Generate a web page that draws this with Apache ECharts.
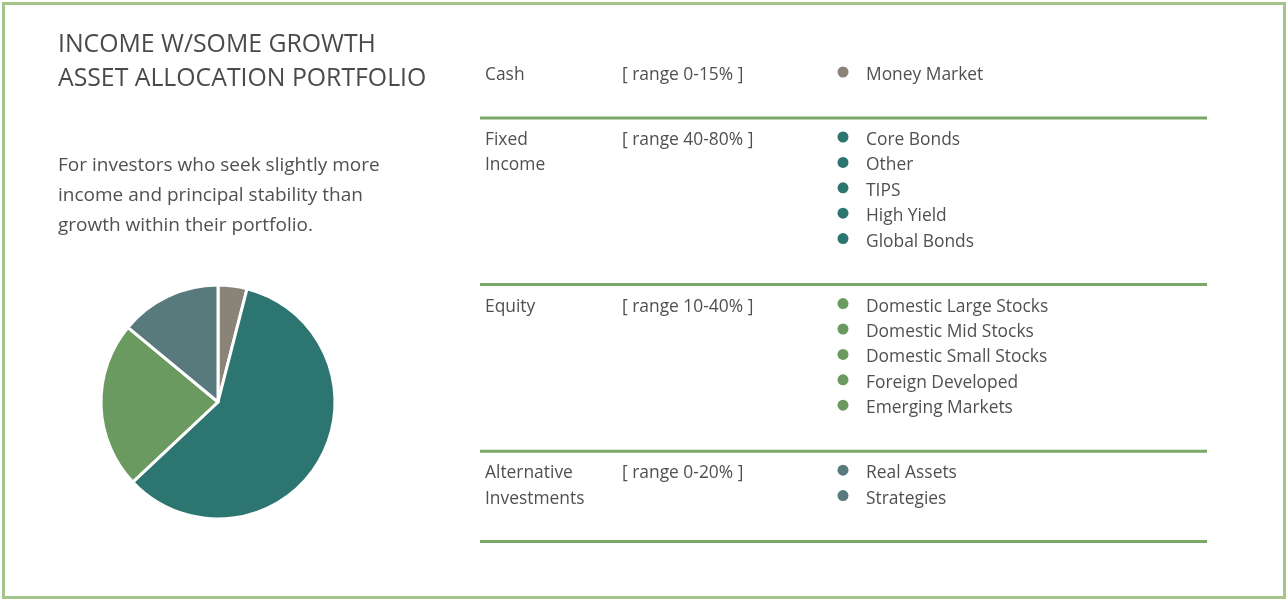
<!DOCTYPE html>
<html>
<head>
<meta charset="utf-8">
<script src="https://cdn.jsdelivr.net/npm/echarts@6/dist/echarts.min.js"></script>
<style>
  html, body { margin: 0; padding: 0; background: #fff; }
  #chart { width: 1286px; height: 599px; }
</style>
</head>
<body>
<div id="chart"></div>
<script>
// Allocation by asset class (percent of pie)
const categories = ['Cash', 'Fixed Income', 'Equity', 'Alternative Investments'];
const categoryLines = [['Cash'], ['Fixed', 'Income'], ['Equity'], ['Alternative', 'Investments']];
const allocation = [4, 59, 23, 14];
const ranges = ['[ range 0-15% ]', '[ range 40-80% ]', '[ range 10-40% ]', '[ range 0-20% ]'];
const holdings = [
  ['Money Market'],
  ['Core Bonds', 'Other', 'TIPS', 'High Yield', 'Global Bonds'],
  ['Domestic Large Stocks', 'Domestic Mid Stocks', 'Domestic Small Stocks', 'Foreign Developed', 'Emerging Markets'],
  ['Real Assets', 'Strategies'],
];
const titleLines = ['INCOME W/SOME GROWTH', 'ASSET ALLOCATION PORTFOLIO'];
const descLines = [
  'For investors who seek slightly more',
  'income and principal stability than',
  'growth within their portfolio.',
];

const COLORS = ['#8a8478', '#2d7570', '#6b9a60', '#587a7c'];
const FONT = '"Open Sans", "Noto Sans", sans-serif';
const TEXT = '#505050';
const RULE = '#7ba866';

const chart = echarts.init(document.getElementById('chart'));

const graphic = [];

// outer frame
graphic.push({
  type: 'rect',
  shape: { x: 3.5, y: 3.5, width: 1281, height: 594 },
  style: { fill: 'none', stroke: '#a4c48c', lineWidth: 3 },
});

titleLines.forEach((t, i) => {
  graphic.push({
    type: 'text', x: 58, y: 45 + i * 34,
    style: { text: t, font: '24.8px ' + FONT, fill: '#4a4a4a', verticalAlign: 'middle' },
  });
});

descLines.forEach((t, i) => {
  graphic.push({
    type: 'text', x: 58, y: 166 + i * 30,
    style: { text: t, font: '19px ' + FONT, fill: TEXT, verticalAlign: 'middle' },
  });
});

// table rows
const step = 25.4;
let y = 74;
categories.forEach((cat, r) => {
  categoryLines[r].forEach((t, i) => {
    graphic.push({
      type: 'text', x: 485, y: y + 1 + i * step,
      style: { text: t, font: '17.4px ' + FONT, fill: TEXT, verticalAlign: 'middle' },
    });
  });
  graphic.push({
    type: 'text', x: 622, y: y + 1,
    style: { text: ranges[r], font: '17.4px ' + FONT, fill: TEXT, verticalAlign: 'middle' },
  });
  holdings[r].forEach((h, i) => {
    graphic.push({
      type: 'circle', shape: { cx: 843, cy: y + i * step - 2, r: 5.5 },
      style: { fill: COLORS[r] },
    });
    graphic.push({
      type: 'text', x: 866, y: y + 1 + i * step,
      style: { text: h, font: '17.4px ' + FONT, fill: TEXT, verticalAlign: 'middle' },
    });
  });
  const n = Math.max(holdings[r].length, categoryLines[r].length);
  const lineY = y + (n - 1) * step + 44;
  graphic.push({
    type: 'line', shape: { x1: 480, y1: lineY, x2: 1207, y2: lineY },
    style: { stroke: RULE, lineWidth: 3 },
  });
  y = lineY + 21;
});

chart.setOption({
  backgroundColor: '#fff',
  animation: false,
  color: COLORS,
  graphic: graphic,
  series: [
    {
      type: 'pie',
      center: [218, 402],
      radius: 117,
      startAngle: 90,
      clockwise: true,
      silent: true,
      label: { show: false },
      labelLine: { show: false },
      itemStyle: { borderColor: '#fff', borderWidth: 3 },
      data: categories.map((c, i) => ({ name: c, value: allocation[i] })),
    },
  ],
});
</script>
</body>
</html>
